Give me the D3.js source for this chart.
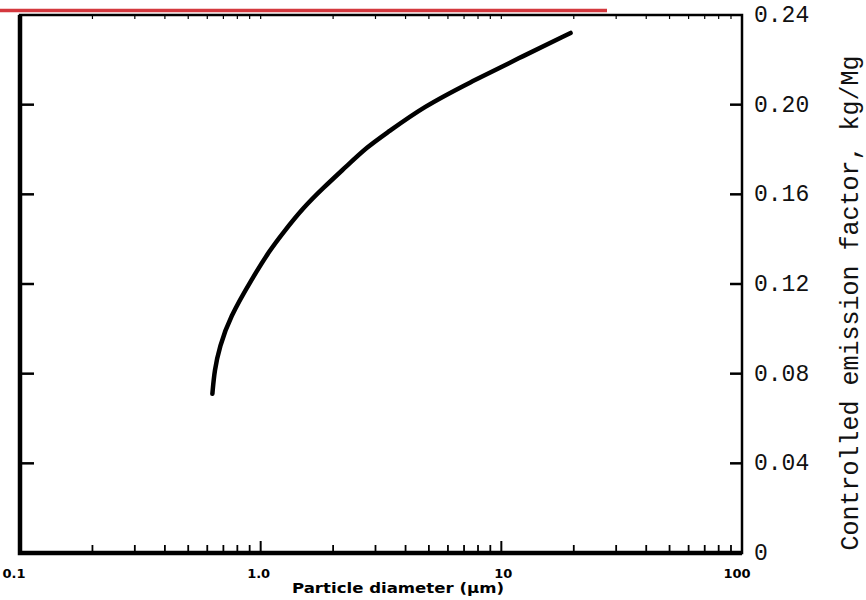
<!DOCTYPE html>
<html>
<head>
<meta charset="utf-8">
<script src="https://cdn.jsdelivr.net/npm/d3@7"></script>
<style>
  body { margin: 0; background: #fff; }
</style>
</head>
<body>
<div id="chart"></div>
<script>
// curve: particle diameter (um) vs controlled emission factor (kg/Mg)
let diameters = [0.63, 0.643, 0.675, 0.743, 0.929, 1.094, 1.238, 1.499, 1.816, 2.284, 2.766, 3.349, 4.73, 7.43, 11.7, 19.4];
let factors   = [0.071, 0.0816, 0.092, 0.105, 0.1231, 0.1352, 0.1428, 0.1539, 0.1628, 0.1727, 0.1811, 0.1874, 0.199, 0.210, 0.2205, 0.232];
let yTicks = [0, 0.04, 0.08, 0.12, 0.16, 0.20, 0.24];
let yTickLabels = ["0", "0.04", "0.08", "0.12", "0.16", "0.20", "0.24"];
let xTicks = [0.1, 1, 10, 100];
let xTickLabels = ["0.1", "1.0", "10", "100"];

let data = diameters.map((d, i) => ({ x: d, y: factors[i] }));

let width = 866, height = 600;
let margin = { top: 15, bottom: 47, left: 20, right: 124 };
let w = width - margin.left - margin.right;
let h = height - margin.top - margin.bottom;

let svg = d3.select('#chart')
  .append('svg')
    .attr('width', width)
    .attr('height', height)
    .style('background', '#fff');

// red line across the top of the scan
svg.append('line')
  .attr('x1', 0).attr('x2', 607)
  .attr('y1', 10.5).attr('y2', 10.5)
  .attr('stroke', '#d4383e')
  .attr('stroke-width', 3.5);

let g = svg.append('g')
  .attr('transform', 'translate(' + margin.left + ',' + margin.top + ')');

let xScale = d3.scaleLog()
  .domain([0.1, 100])
  .range([0, w]);

let yScale = d3.scaleLinear()
  .domain([0, 0.24])
  .range([h, 0]);

// minor ticks of the log axis
let minor = [];
[0.1, 1, 10].forEach(function(dec) {
  for (let k = 2; k <= 9; k++) minor.push(dec * k);
});

// bottom ticks (pointing up)
g.selectAll('.xminor')
  .data(minor)
  .enter().append('line')
    .attr('x1', d => xScale(d)).attr('x2', d => xScale(d))
    .attr('y1', h).attr('y2', h - 8)
    .attr('stroke', '#000').attr('stroke-width', 1.8);

g.selectAll('.xmajor')
  .data([1, 10])
  .enter().append('line')
    .attr('x1', d => xScale(d)).attr('x2', d => xScale(d))
    .attr('y1', h).attr('y2', h - 12)
    .attr('stroke', '#000').attr('stroke-width', 2);

// top ticks (pointing down)
g.selectAll('.xtop')
  .data(minor.concat([1, 10]))
  .enter().append('line')
    .attr('x1', d => xScale(d)).attr('x2', d => xScale(d))
    .attr('y1', 0).attr('y2', 4)
    .attr('stroke', '#000').attr('stroke-width', 1.2);

// left ticks (pointing right)
g.selectAll('.yleft')
  .data(yTicks.slice(1, -1))
  .enter().append('line')
    .attr('x1', 0).attr('x2', 14)
    .attr('y1', d => yScale(d)).attr('y2', d => yScale(d))
    .attr('stroke', '#000').attr('stroke-width', 2.5);

// right ticks (pointing left)
g.selectAll('.yright')
  .data(yTicks.slice(1, -1))
  .enter().append('line')
    .attr('x1', w).attr('x2', w - 12)
    .attr('y1', d => yScale(d)).attr('y2', d => yScale(d))
    .attr('stroke', '#000').attr('stroke-width', 2.5);

// frame
g.append('rect')
  .attr('x', 0).attr('y', 0)
  .attr('width', w).attr('height', h)
  .attr('fill', 'none')
  .attr('stroke', '#000')
  .attr('stroke-width', 2.5);

g.append('path')
  .attr('d', 'M0,0 V' + h + ' H' + w)
  .attr('fill', 'none')
  .attr('stroke', '#000')
  .attr('stroke-width', 4.5);

// curve
let line = d3.line()
  .x(d => xScale(d.x))
  .y(d => yScale(d.y))
  .curve(d3.curveBasis);

g.append('path')
  .datum(data)
  .attr('fill', 'none')
  .attr('stroke', '#000')
  .attr('stroke-width', 4.5)
  .attr('stroke-linecap', 'round')
  .attr('d', line);

// y tick labels on the right
g.selectAll('.ylabel')
  .data(yTicks)
  .enter().append('text')
    .attr('x', w + 12)
    .attr('y', d => yScale(d) + 7)
    .attr('font-family', 'Liberation Mono, DejaVu Sans Mono, monospace')
    .attr('font-size', 23)
    .attr('fill', '#111')
    .text((d, i) => yTickLabels[i]);

// y axis title
svg.append('text')
  .attr('transform', 'translate(858,' + 303 + ') rotate(-90)')
  .attr('text-anchor', 'middle')
  .attr('font-family', 'Liberation Mono, DejaVu Sans Mono, monospace')
  .attr('font-size', 25)
  .attr('fill', '#111')
  .text('Controlled emission factor, kg/Mg');

// x tick labels
g.selectAll('.xlabel')
  .data(xTicks)
  .enter().append('text')
    .attr('x', (d, i) => xScale(d) + [-6, -2, 2, -5][i])
    .attr('y', h + 25)
    .attr('text-anchor', 'middle')
    .attr('font-family', 'DejaVu Sans, sans-serif')
    .attr('font-weight', 'bold')
    .attr('font-size', 13)
    .attr('fill', '#000')
    .text((d, i) => xTickLabels[i]);

// x axis title
svg.append('text')
  .attr('x', 398)
  .attr('y', 593)
  .attr('text-anchor', 'middle')
  .attr('font-family', 'DejaVu Sans, sans-serif')
  .attr('font-weight', 'bold')
  .attr('font-size', 14)
  .attr('textLength', 212)
  .attr('lengthAdjust', 'spacingAndGlyphs')
  .attr('fill', '#000')
  .text('Particle diameter (\u00b5m)');
</script>
</body>
</html>
